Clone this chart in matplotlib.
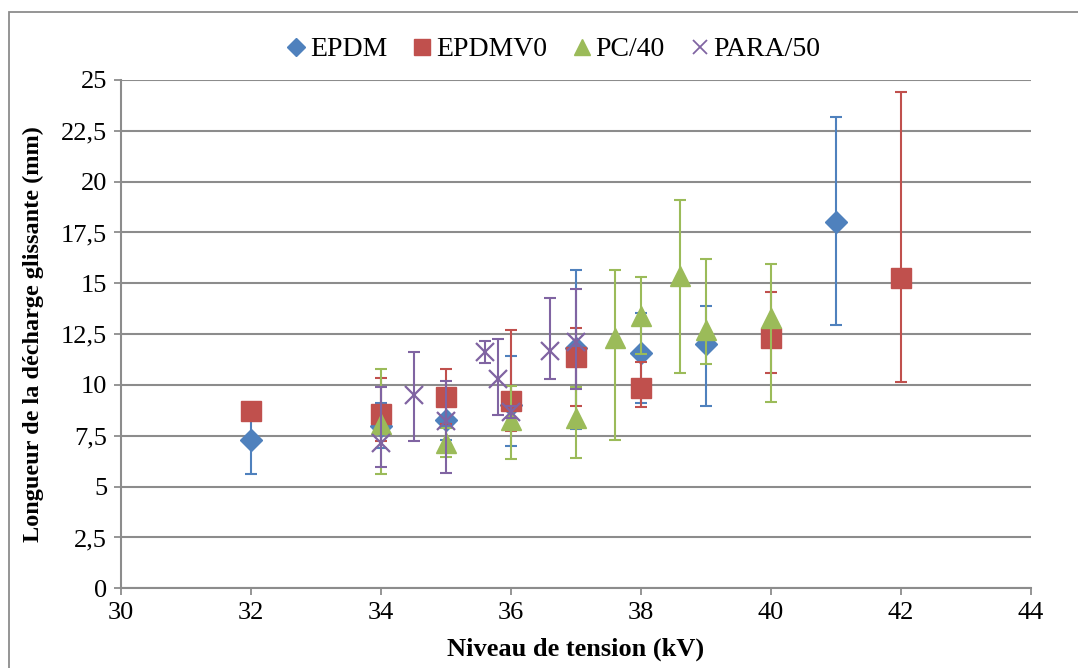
import matplotlib.pyplot as plt
from matplotlib.lines import Line2D
from matplotlib.patches import Rectangle
from matplotlib.ticker import FuncFormatter, MultipleLocator

# EPDM
epdm_x = [32, 34, 35, 36, 37, 38, 39, 41]
epdm_y = [7.3, 8.0, 8.3, 9.0, 11.8, 11.56, 12.02, 18.0]
epdm_lo = [1.68, 1.1, 1.0, 2.0, 3.95, 2.46, 3.04, 5.05]
epdm_hi = [1.4, 1.13, 1.0, 2.44, 3.86, 2.0, 1.87, 5.2]

# EPDMV0
v0_x = [32, 34, 35, 36, 37, 38, 40, 42]
v0_y = [8.72, 8.57, 9.42, 9.23, 11.36, 9.84, 12.31, 15.25]
v0_lo = [0.3, 1.34, 1.35, 1.48, 2.41, 0.94, 1.71, 5.09]
v0_hi = [0.3, 1.77, 1.35, 3.47, 1.44, 1.28, 2.25, 9.15]

# PC/40
pc_x = [34, 35, 36, 37, 37.6, 38, 38.6, 39, 40]
pc_y = [8.1, 7.16, 8.28, 8.36, 12.3, 13.41, 15.37, 12.7, 13.28]
pc_lo = [2.5, 0.7, 1.93, 1.97, 5.0, 1.9, 4.79, 1.68, 4.1]
pc_hi = [2.7, 0.7, 1.67, 1.56, 3.36, 1.92, 3.73, 3.5, 2.66]

# PARA/50
para_x = [34, 34.5, 35, 35.6, 35.8, 36, 36.6, 37]
para_y = [7.15, 9.5, 8.24, 11.64, 10.28, 8.69, 11.67, 12.13]
para_lo = [1.17, 2.24, 2.55, 0.57, 1.74, 0.3, 1.37, 2.33]
para_hi = [2.77, 2.1, 1.96, 0.5, 2.0, 0.3, 2.62, 2.58]

plt.rcParams['font.family'] = ['Liberation Serif', 'DejaVu Serif']

fig = plt.figure(figsize=(10.78, 6.68), dpi=100)
ax = fig.add_axes([121 / 1078, 1 - 588.3 / 668, 910 / 1078, 508.3 / 668])

# chart area border (cut off at right and bottom like the original)
fig.patches.append(Rectangle((9 / 1078, -0.05), 1.2, 1 - 12 / 668 + 0.05,
                             transform=fig.transFigure, fill=False,
                             edgecolor='#8c8c8c', linewidth=1.3))

series = [
    ("EPDM", epdm_x, epdm_y, epdm_lo, epdm_hi, '#4F81BD', 'D', 11, 0),
    ("EPDMV0", v0_x, v0_y, v0_lo, v0_hi, '#C0504D', 's', 14, 0),
    ("PC/40", pc_x, pc_y, pc_lo, pc_hi, '#9BBB59', '^', 15, 0),
    ("PARA/50", para_x, para_y, para_lo, para_hi, '#8064A2', 'x', 13, 1.6),
]

handles = []
for i, (name, x, y, lo, hi, col, mk, ms, mew) in enumerate(series):
    ax.errorbar(x, y, yerr=[lo, hi], fmt='none', ecolor=col, elinewidth=1.5,
                capsize=4.5, capthick=1.5, zorder=3 + 2 * i)
    if mk == 'x':
        ax.plot(x, y, linestyle='none', marker=mk, markersize=ms,
                color=col, markeredgewidth=mew, zorder=4 + 2 * i)
    else:
        ax.plot(x, y, linestyle='none', marker=mk, markersize=ms,
                color=col, markeredgecolor=col, zorder=4 + 2 * i)
    handles.append(Line2D([], [], linestyle='none', marker=mk,
                          markersize=ms * 0.8, color=col,
                          markeredgewidth=mew * 0.8 if mew else 1.0, label=name))

ax.set_xlim(30, 44)
ax.set_ylim(0, 25)
ax.xaxis.set_major_locator(MultipleLocator(2))
ax.yaxis.set_major_locator(MultipleLocator(2.5))
ax.yaxis.set_major_formatter(FuncFormatter(lambda v, p: f"{v:g}".replace('.', ',')))

ax.grid(axis='y', color='#8c8c8c', linewidth=1.5, zorder=0)
ax.set_axisbelow(True)
for s in ['top', 'right']:
    ax.spines[s].set_visible(False)
for s in ['left', 'bottom']:
    ax.spines[s].set_color('#8c8c8c')
    ax.spines[s].set_linewidth(1.5)
ax.tick_params(axis='both', direction='out', length=5, width=1.3,
               color='#8c8c8c', labelsize=19, pad=5)

ax.set_xlabel("Niveau de tension (kV)", fontsize=19, fontweight='bold', labelpad=10)
ax.set_ylabel("Longueur de la décharge glissante (mm)", fontsize=17.5,
              fontweight='bold', labelpad=12)

ax.legend(handles=handles, loc='center', bbox_to_anchor=(0.473, 1.06), ncol=4,
          frameon=False, fontsize=20, handletextpad=0.0, columnspacing=0.75,
          handlelength=1.0)

fig.savefig("out.png", dpi=100)
